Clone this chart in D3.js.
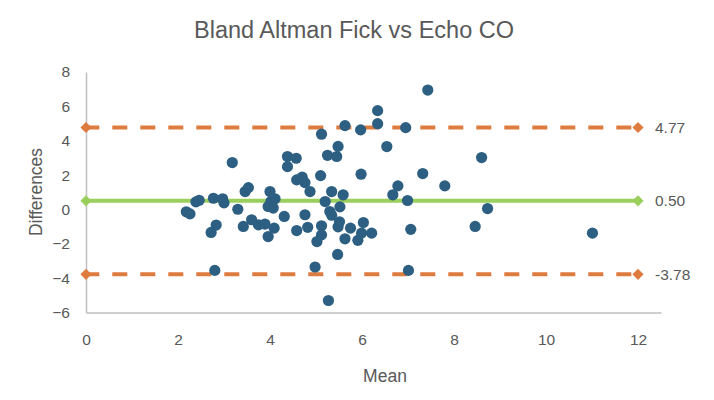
<!DOCTYPE html>
<html>
<head>
<meta charset="utf-8">
<script src="https://cdn.jsdelivr.net/npm/d3@7"></script>
<style>
  body { margin: 0; background: #fff; }
  text { font-family: "Liberation Sans", Arial, sans-serif; fill: #595959; }
</style>
</head>
<body>
<div id="chart"></div>
<script>
//size
const width = 714;
const height = 400;

//point data (mean of the two methods, difference)
const meanVals = [
  2.18, 2.26, 2.39, 2.46, 2.77, 2.97, 3.00, 3.18, 3.30, 3.46,
  3.53, 2.83, 2.72, 2.80, 3.42, 3.60, 3.75, 3.89, 3.96, 4.09,
  4.00, 4.11, 4.02, 3.96, 4.07, 4.31, 4.38, 4.57, 4.38, 4.58,
  4.70, 4.76, 4.87, 4.76, 4.58, 4.82, 5.12, 5.12, 5.02, 4.98,
  5.27, 5.47, 5.12, 5.63, 5.97, 6.34, 6.34, 5.48, 5.25, 5.45,
  6.54, 5.10, 5.98, 5.34, 5.59, 5.20, 5.52, 5.30, 5.34, 5.51,
  5.48, 5.75, 5.63, 5.91, 6.03, 5.99, 6.21, 6.67, 6.78, 6.95,
  6.99, 7.06, 7.01, 7.32, 7.43, 7.80, 8.60, 8.73, 8.46, 11.01
];
const diffVals = [
  -0.14, -0.26, 0.44, 0.53, 0.65, 0.62, 0.38, 2.73, 0.01, 1.04,
  1.27, -0.91, -1.34, -3.55, -0.99, -0.60, -0.90, -0.85, -1.58, -1.09,
  1.04, 0.62, 0.46, 0.17, 0.08, -0.41, 3.08, 2.98, 2.49, 1.72,
  1.88, 1.56, 1.04, -0.31, -1.23, -1.04, -0.95, -1.48, -1.87, -3.35,
  -5.30, -2.62, 4.38, 4.88, 4.63, 5.75, 4.99, 3.67, 3.15, 3.08,
  3.66, 1.97, 2.05, 1.04, 0.85, 0.46, 0.15, -0.12, -0.34, -0.72,
  -1.01, -1.09, -1.71, -1.80, -0.76, -1.38, -1.38, 0.85, 1.37, 4.76,
  0.52, -1.16, -3.55, 2.09, 6.95, 1.37, 3.02, 0.05, -0.99, -1.38
];

//limits of agreement and bias
const limitVals = [4.77, 0.50, -3.78];
const limitKind = ["upper", "bias", "lower"];
const limitRange = [0, 12];

//ticks
const xTicks = [0, 2, 4, 6, 8, 10, 12];
const yTicks = [-6, -4, -2, 0, 2, 4, 6, 8];

const points = meanVals.map((m, i) => ({ mean: m, diff: diffVals[i] }));
const limits = limitVals.map((v, i) => ({ value: v, kind: limitKind[i] }));

const colors = { upper: "#DE7B3E", lower: "#DE7B3E", bias: "#9BCF5D", dot: "#2C5F82", axis: "#BFBFBF" };

//scales
const x = d3.scaleLinear().domain([0, 12.5]).range([86, 661]);
const y = d3.scaleLinear().domain([-6, 8]).range([312.5, 72]);

const svg = d3.select("#chart")
  .append("svg")
  .attr("width", width)
  .attr("height", height);

//title
svg.append("text")
  .attr("x", 354)
  .attr("y", 38)
  .attr("text-anchor", "middle")
  .attr("font-size", "23.5px")
  .text("Bland Altman Fick vs Echo CO");

//axes
const xAxis = svg.append("g")
  .attr("transform", `translate(0,${y(-6)})`)
  .call(d3.axisBottom(x).tickValues(xTicks).tickSize(0).tickPadding(21));
const yAxis = svg.append("g")
  .attr("transform", `translate(${x(0)},0)`)
  .call(d3.axisLeft(y).tickValues(yTicks).tickSize(0).tickPadding(16));

[xAxis, yAxis].forEach((g) => {
  g.select(".domain").attr("stroke", colors.axis).attr("stroke-width", 1.5);
  g.selectAll("text")
    .attr("fill", "#595959")
    .attr("font-size", "15.5px")
    .attr("font-family", "Liberation Sans, Arial, sans-serif");
});

//axis titles
svg.append("text")
  .attr("transform", "translate(42,192) rotate(-90)")
  .attr("text-anchor", "middle")
  .attr("font-size", "17.5px")
  .text("Differences");

svg.append("text")
  .attr("x", 385)
  .attr("y", 382)
  .attr("text-anchor", "middle")
  .attr("font-size", "17.5px")
  .text("Mean");

//limit lines
const gLimit = svg.append("g").attr("class", "limits");
gLimit.selectAll("line")
  .data(limits)
  .enter()
  .append("line")
  .attr("x1", x(limitRange[0]))
  .attr("x2", x(limitRange[1]))
  .attr("y1", (d) => y(d.value))
  .attr("y2", (d) => y(d.value))
  .attr("stroke", (d) => colors[d.kind])
  .attr("stroke-width", 4)
  .attr("stroke-dasharray", (d) => (d.kind === "bias" ? null : "15,13"))
  .attr("stroke-dashoffset", 1.7);

//points
svg.append("g")
  .selectAll("circle")
  .data(points)
  .enter()
  .append("circle")
  .attr("cx", (d) => x(d.mean))
  .attr("cy", (d) => y(d.diff))
  .attr("r", 5.6)
  .attr("fill", colors.dot);

//diamond markers at both ends
const diamond = d3.symbol().type(d3.symbolSquare).size(62);
const ends = limits.flatMap((d) => limitRange.map((r) => ({ ...d, at: r })));
gLimit.selectAll("path.marker")
  .data(ends)
  .enter()
  .append("path")
  .attr("class", "marker")
  .attr("d", diamond)
  .attr("fill", (d) => colors[d.kind])
  .attr("transform", (d) => `translate(${x(d.at)},${y(d.value)}) rotate(45)`);

//value labels
gLimit.selectAll("text")
  .data(limits)
  .enter()
  .append("text")
  .attr("x", x(limitRange[1]) + 17)
  .attr("y", (d) => y(d.value))
  .attr("dy", "0.35em")
  .attr("font-size", "15.5px")
  .text((d) => d.value.toFixed(2));
</script>
</body>
</html>
